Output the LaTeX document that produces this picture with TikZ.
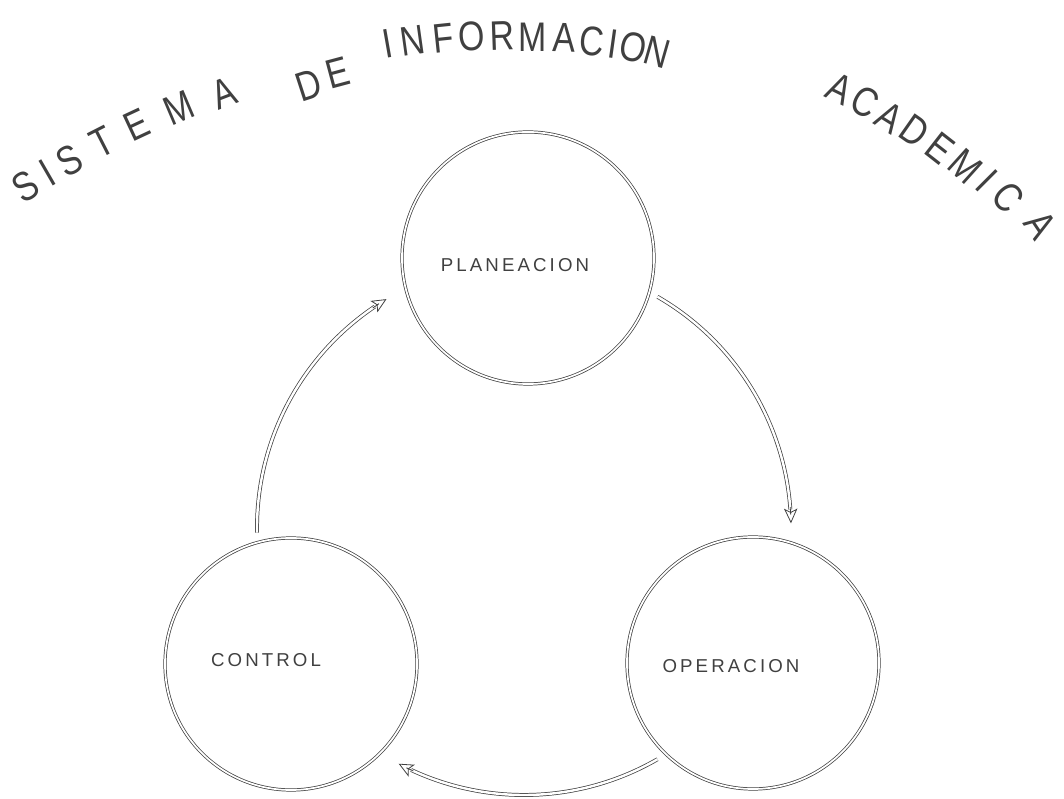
\documentclass[tikz,border=0pt]{standalone}
\usepackage{fontspec}
\setmainfont{Liberation Sans}
\newfontfamily\titlefont[FakeStretch=0.82]{Liberation Sans}
\usetikzlibrary{arrows.meta}
\tikzset{
  nodecircle/.style={circle, draw=black!75, line width=0.55pt, double, double distance=1.3pt, minimum size=189pt, inner sep=0pt},
  conn/.style={draw=black!75, line width=0.55pt, double, double distance=1.8pt},
  conntip/.style={draw=black!75, line width=0.6pt, -{Stealth[open,length=11pt,width=10pt,inset=2.5pt]}},
  titleletter/.style={font=\titlefont\fontsize{31}{31}\selectfont, inner sep=0pt, text=black!75},
  lbl/.style={font=\fontsize{14}{14}\selectfont, inner sep=0pt, text=black!75}
}
\begin{document}
\begin{tikzpicture}[x=0.75pt,y=0.75pt]
\useasboundingbox (0,0) rectangle (1064,799);
% nodes
\node[nodecircle] (plan) at (528,541) {};
\node[nodecircle] (ctrl) at (291,135) {};
\node[nodecircle] (oper) at (753,136) {};
\node[lbl] (planlbl) at (515,534) {P\,L\,A\,N\,E\,A\,C\,I\,O\,N};
\node[lbl] (ctrllbl) at (266,139) {C\,O\,N\,T\,R\,O\,L};
\node[lbl] (operlbl) at (731,133) {O\,P\,E\,R\,A\,C\,I\,O\,N};
% connectors on the cycle circle
\coordinate (C) at (524,271);
\coordinate (r1) at ([shift={(60:267)}]C);
\coordinate (r1t) at ([shift={(4.5:267)}]C);
\coordinate (r2) at ([shift={(300:267)}]C);
\coordinate (r2t) at ([shift={(245.5:267)}]C);
\coordinate (r3) at ([shift={(181:267)}]C);
\coordinate (r3t) at ([shift={(124.5:267)}]C);
\draw[conn] (r1) arc[start angle=60, end angle=4, radius=267];
\draw[conntip] (r1t) arc[start angle=4.5, end angle=1, radius=267];
\draw[conn] (r2) arc[start angle=300, end angle=245, radius=267];
\draw[conntip] (r2t) arc[start angle=245.5, end angle=242, radius=267];
\draw[conn] (r3) arc[start angle=181, end angle=124, radius=267];
\draw[conntip] (r3t) arc[start angle=124.5, end angle=121, radius=267];
% title letters
\foreach \ch/\x/\y/\r [count=\i] in {
  S/26/186/32, I/47/173/30, S/69/161/29, T/102/142/27, E/137/125/25, M/179/108/23, A/224/93/21,
  D/309/85/18, E/338/73/15,
  I/388/44/10, N/413/41/8, F/443/38/6, O/472/36/4, R/502/36/2, M/533/37/0, A/564/38/-2, C/592/41/-5, I/613/44/-8, O/633/47/-12, N/657/52/-16,
  A/840/89/-26, C/865/102/-29, A/890/117/-32, D/915/131/-35, E/940/148/-38, M/965/166/-42, I/987/181/-45, C/1008/197/-49, A/1041/225/-56}
  \node[titleletter, rotate=\r] (t\i) at (\x,{799-\y}) {\ch};
\end{tikzpicture}
\end{document}
